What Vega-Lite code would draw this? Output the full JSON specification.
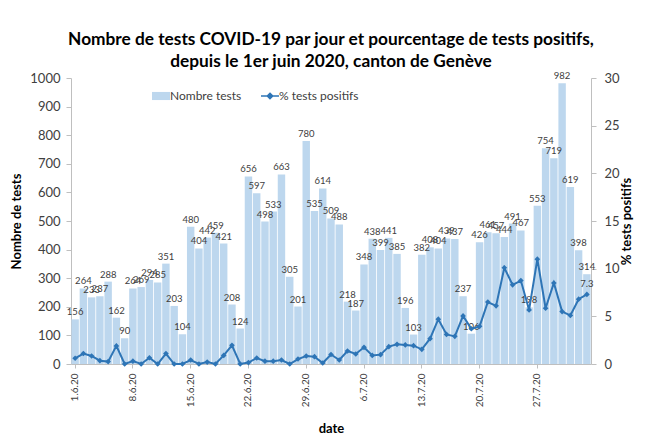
{
  "$schema": "https://vega.github.io/schema/vega-lite/v6.json",
  "width": 520,
  "height": 286,
  "autosize": {"type": "none"},
  "padding": {"left": 71, "top": 78, "right": 70, "bottom": 73},
  "background": "white",
  "config": {
    "font": "Lato",
    "view": {"stroke": null},
    "axis": {"grid": false, "domainColor": "#BFBFBF", "tickColor": "#BFBFBF", "labelColor": "#404040", "titleColor": "#000000", "labelFont": "Lato", "titleFont": "Lato"}
  },
  "title": {
    "text": ["Nombre de tests COVID-19 par jour et pourcentage de tests positifs,", "depuis le 1er juin 2020, canton de Genève"],
    "font": "Lato",
    "fontSize": 17.3,
    "fontWeight": "bold",
    "color": "#000000",
    "lineHeight": 22,
    "anchor": "middle",
    "offset": 1
  },
  "data": {
    "values": [
      {"date": "1.6.20", "tests": 156, "pct": 0.6},
      {"date": "2.6.20", "tests": 264, "pct": 1.1},
      {"date": "3.6.20", "tests": 233, "pct": 0.84},
      {"date": "4.6.20", "tests": 237, "pct": 0.35},
      {"date": "5.6.20", "tests": 288, "pct": 0.25},
      {"date": "6.6.20", "tests": 162, "pct": 1.9},
      {"date": "7.6.20", "tests": 90, "pct": 0},
      {"date": "8.6.20", "tests": 264, "pct": 0.3},
      {"date": "9.6.20", "tests": 269, "pct": 0},
      {"date": "10.6.20", "tests": 294, "pct": 0.66},
      {"date": "11.6.20", "tests": 285, "pct": 0},
      {"date": "12.6.20", "tests": 351, "pct": 1.1},
      {"date": "13.6.20", "tests": 203, "pct": 0},
      {"date": "14.6.20", "tests": 104, "pct": 0},
      {"date": "15.6.20", "tests": 480, "pct": 0.42},
      {"date": "16.6.20", "tests": 404, "pct": 0},
      {"date": "17.6.20", "tests": 442, "pct": 0.2},
      {"date": "18.6.20", "tests": 459, "pct": 0},
      {"date": "19.6.20", "tests": 421, "pct": 0.9},
      {"date": "20.6.20", "tests": 208, "pct": 1.96},
      {"date": "21.6.20", "tests": 124, "pct": 0},
      {"date": "22.6.20", "tests": 656, "pct": 0.15},
      {"date": "23.6.20", "tests": 597, "pct": 0.63},
      {"date": "24.6.20", "tests": 498, "pct": 0.3},
      {"date": "25.6.20", "tests": 533, "pct": 0.3},
      {"date": "26.6.20", "tests": 663, "pct": 0.42},
      {"date": "27.6.20", "tests": 305, "pct": 0},
      {"date": "28.6.20", "tests": 201, "pct": 0.52},
      {"date": "29.6.20", "tests": 780, "pct": 0.84},
      {"date": "30.6.20", "tests": 535, "pct": 0.77},
      {"date": "1.7.20", "tests": 614, "pct": 0.1},
      {"date": "2.7.20", "tests": 509, "pct": 1.0},
      {"date": "3.7.20", "tests": 488, "pct": 0.42},
      {"date": "4.7.20", "tests": 218, "pct": 1.36},
      {"date": "5.7.20", "tests": 187, "pct": 1.05},
      {"date": "6.7.20", "tests": 348, "pct": 1.75},
      {"date": "7.7.20", "tests": 438, "pct": 0.9},
      {"date": "8.7.20", "tests": 399, "pct": 0.98},
      {"date": "9.7.20", "tests": 441, "pct": 1.82},
      {"date": "10.7.20", "tests": 385, "pct": 2.06},
      {"date": "11.7.20", "tests": 196, "pct": 2.0},
      {"date": "12.7.20", "tests": 103, "pct": 1.92},
      {"date": "13.7.20", "tests": 382, "pct": 1.54},
      {"date": "14.7.20", "tests": 408, "pct": 2.66},
      {"date": "15.7.20", "tests": 404, "pct": 4.7},
      {"date": "16.7.20", "tests": 439, "pct": 3.1},
      {"date": "17.7.20", "tests": 437, "pct": 2.9},
      {"date": "18.7.20", "tests": 237, "pct": 5.04},
      {"date": "19.7.20", "tests": 106, "pct": 3.7},
      {"date": "20.7.20", "tests": 426, "pct": 3.95},
      {"date": "21.7.20", "tests": 461, "pct": 6.5},
      {"date": "22.7.20", "tests": 457, "pct": 6.1},
      {"date": "23.7.20", "tests": 444, "pct": 10.1},
      {"date": "24.7.20", "tests": 491, "pct": 8.3},
      {"date": "25.7.20", "tests": 467, "pct": 8.75},
      {"date": "26.7.20", "tests": 198, "pct": 5.67},
      {"date": "27.7.20", "tests": 553, "pct": 11.0},
      {"date": "28.7.20", "tests": 754, "pct": 5.85},
      {"date": "29.7.20", "tests": 719, "pct": 8.5},
      {"date": "30.7.20", "tests": 982, "pct": 5.5},
      {"date": "31.7.20", "tests": 619, "pct": 5.1},
      {"date": "1.8.20", "tests": 398, "pct": 6.8},
      {"date": "2.8.20", "tests": 314, "pct": 7.3}
    ]
  },
  "encoding": {
    "x": {
      "field": "date",
      "type": "ordinal",
      "sort": null,
      "scale": {"paddingInner": 0.1, "paddingOuter": 0.05},
      "axis": {
        "values": ["1.6.20", "8.6.20", "15.6.20", "22.6.20", "29.6.20", "6.7.20", "13.7.20", "20.7.20", "27.7.20"],
        "labelAngle": -90,
        "labelFontSize": 10,
        "labelPadding": 5,
        "tickSize": 4,
        "title": "date",
        "titleFontSize": 13,
        "titleFontWeight": "bold",
        "titlePadding": 16
      }
    }
  },
  "layer": [
    {
      "encoding": {
        "y": {
          "field": "tests",
          "type": "quantitative",
          "scale": {"domain": [0, 1000], "nice": false},
          "axis": {
            "values": [0, 100, 200, 300, 400, 500, 600, 700, 800, 900, 1000],
            "format": "d",
            "labelFontSize": 13,
            "labelPadding": 6,
            "tickSize": 5,
            "title": "Nombre de tests",
            "titleFontSize": 13,
            "titleFontWeight": "bold",
            "titlePadding": 6
          }
        }
      },
      "layer": [
        {
          "mark": {"type": "bar", "color": "#BDD7EE"},
          "encoding": {
            "color": {
              "datum": "Nombre tests",
              "type": "nominal",
              "scale": {"domain": ["Nombre tests", "% tests positifs"], "range": ["#BDD7EE", "#2E75B6"]},
              "legend": {
                "title": null,
                "orient": "none",
                "direction": "horizontal",
                "legendX": 84,
                "legendY": 12,
                "labelFont": "Lato",
                "labelFontSize": 12,
                "labelColor": "#404040",
                "symbolSize": 324,
                "labelOffset": 3,
                "columnPadding": 16,
                "encode": {
                  "symbols": {
                    "update": {
                      "shape": {"signal": "datum.value === 'Nombre tests' ? 'M-1,-0.45H1V0.45H-1Z' : 'M-1,0H1M0,-0.3L0.3,0L0,0.3L-0.3,0Z'"},
                      "fill": {"signal": "datum.value === 'Nombre tests' ? '#BDD7EE' : '#2E75B6'"},
                      "stroke": {"signal": "datum.value === 'Nombre tests' ? '#BDD7EE' : '#2E75B6'"},
                      "strokeWidth": {"signal": "datum.value === 'Nombre tests' ? 0 : 1.5"},
                      "opacity": {"value": 1}
                    }
                  }
                }
              }
            }
          }
        },
        {
          "mark": {"type": "text", "dy": -7, "fontSize": 9.5, "color": "#404040", "font": "Lato"},
          "encoding": {
            "text": {"field": "tests", "type": "quantitative"}
          }
        }
      ]
    },
    {
      "encoding": {
        "y": {
          "field": "pct",
          "type": "quantitative",
          "scale": {"domain": [0, 30], "nice": false},
          "axis": {
            "orient": "right",
            "values": [0, 5, 10, 15, 20, 25, 30],
            "labelFontSize": 13,
            "labelPadding": 8,
            "tickSize": 5,
            "title": "% tests positifs",
            "titleFontSize": 13,
            "titleFontWeight": "bold",
            "titleAngle": -90,
            "titlePadding": 14
          }
        }
      },
      "layer": [
        {
          "mark": {"type": "line", "strokeWidth": 2, "point": {"shape": "diamond", "size": 32, "filled": true}},
          "encoding": {
            "color": {"datum": "% tests positifs", "type": "nominal"}
          }
        },
        {
          "transform": [{"filter": "datum.date === '2.8.20'"}],
          "mark": {"type": "text", "dy": -10, "fontSize": 9.5, "color": "#404040", "font": "Lato"},
          "encoding": {
            "text": {"field": "pct", "type": "quantitative", "format": ".1f"}
          }
        }
      ]
    }
  ],
  "resolve": {"scale": {"y": "independent"}}
}
